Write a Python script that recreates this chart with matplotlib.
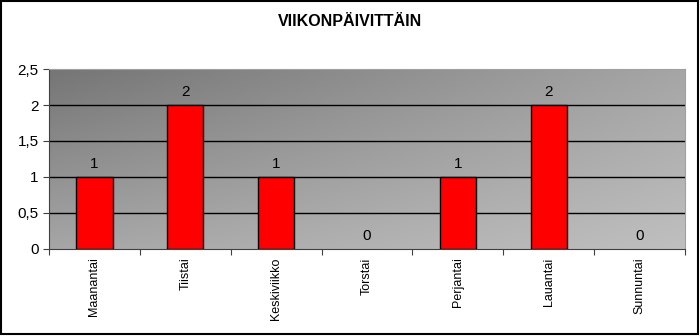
import matplotlib
matplotlib.use("Agg")
import matplotlib.pyplot as plt
from matplotlib.patches import Rectangle
import numpy as np

days = ["Maanantai", "Tiistai", "Keskiviikko", "Torstai", "Perjantai", "Lauantai", "Sunnuntai"]
counts = [1, 2, 1, 0, 1, 2, 0]
yticks = [0, 0.5, 1, 1.5, 2, 2.5]
ytick_labels = ["0", "0,5", "1", "1,5", "2", "2,5"]

plt.rcParams['font.family'] = ['Liberation Sans', 'DejaVu Sans']

fig = plt.figure(figsize=(7, 3.36), dpi=100)
fig.patches.append(Rectangle((0.001, 0.006), 0.996, 0.99, transform=fig.transFigure,
                             fill=False, edgecolor="black", linewidth=1.5))
ax = fig.add_axes([0.07, 0.259, 0.9086, 0.5356])

# diagonal grey gradient background, dark top-left to light bottom-right
gx, gy = np.meshgrid(np.linspace(0, 1, 200), np.linspace(0, 1, 100))
g = 0.46 + 0.19 * gx + 0.19 * gy - 0.09 * gx * gy
img = np.dstack([g, g, g])
ax.imshow(img, extent=(-0.5, len(days) - 0.5, 0, 2.5), aspect="auto", origin="upper", zorder=0)

x = np.arange(len(days))
for yv in yticks[1:-1]:
    ax.axhline(yv, color="black", lw=1, zorder=1)
ax.bar(x, counts, width=0.4, color="#ff0000", edgecolor="black",
       lw=[1 if c > 0 else 0 for c in counts], zorder=2)
for xi, v in zip(x, counts):
    ax.text(xi, v + 0.08, str(v), ha="center", va="bottom", fontsize=11, zorder=3)

ax.set_xlim(-0.5, len(days) - 0.5)
ax.set_ylim(0, 2.5)
ax.set_yticks(yticks)
ax.set_yticklabels(ytick_labels, fontsize=11)
ax.set_xticks(np.arange(len(days) + 1) - 0.5, minor=False)
ax.set_xticklabels([])
ax.set_xticks(x, minor=True)
ax.set_xticklabels(days, minor=True, rotation=90, fontsize=9)
ax.tick_params(axis="x", which="minor", length=0, pad=6)
ax.tick_params(axis="x", which="major", length=4, direction="out", color="#404040")
ax.tick_params(axis="y", length=4, color="#404040")
for s in ["top", "right"]:
    ax.spines[s].set_color("#a0a0a0")
for s in ["left", "bottom"]:
    ax.spines[s].set_color("#404040")

fig.text(0.5, 0.935, "VIIKONPÄIVITTÄIN", ha="center", va="center", fontsize=11.5, fontweight="bold")

fig.savefig("out.png", dpi=100)
